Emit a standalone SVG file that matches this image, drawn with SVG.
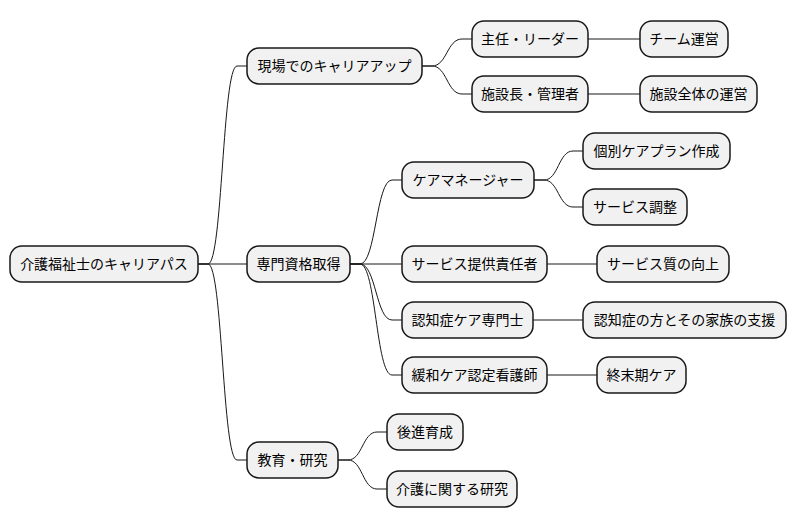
<svg xmlns="http://www.w3.org/2000/svg" width="796" height="527" viewBox="0 0 796 527">
<style>
.n rect{fill:#F1F1F1;stroke:#181818;stroke-width:1.5}
.n text{font-family:"Noto Sans CJK JP","Noto Sans",sans-serif;font-size:14px;fill:#000;text-anchor:middle}
.c path{fill:none;stroke:#181818;stroke-width:1}
</style>
<rect width="796" height="527" fill="#FFFFFF"/>
<g class="c">
<path d="M198,264 L208,264 C222.5,264 222.5,66 237,66 L247,66"/>
<path d="M198,264 L247,264"/>
<path d="M198,264 L208,264 C222.5,264 222.5,460 237,460 L247,460"/>
<path d="M422,66 L432,66 C447,66 447,39 462,39 L472,39"/>
<path d="M422,66 L432,66 C447,66 447,94 462,94 L472,94"/>
<path d="M588,39 L640,39"/>
<path d="M588,94 L640,94"/>
<path d="M350,264 L360,264 C376,264 376,180 392,180 L402,180"/>
<path d="M350,264 L402,264"/>
<path d="M350,264 L360,264 C376,264 376,320 392,320 L402,320"/>
<path d="M350,264 L360,264 C376,264 376,375 392,375 L402,375"/>
<path d="M534,180 L544,180 C558.5,180 558.5,151 573,151 L583,151"/>
<path d="M534,180 L544,180 C558.5,180 558.5,207 573,207 L583,207"/>
<path d="M547,264 L597,264"/>
<path d="M533,320 L583,320"/>
<path d="M547,375 L597,375"/>
<path d="M338,460 L348,460 C362.5,460 362.5,432 377,432 L387,432"/>
<path d="M338,460 L348,460 C362.5,460 362.5,489 377,489 L387,489"/>
</g>
<g id="root" class="n"><rect x="10" y="246" width="188" height="36" rx="12"/><text x="104" y="269">介護福祉士のキャリアパス</text></g>
<g id="genba" class="n"><rect x="247" y="48" width="175" height="36" rx="12"/><text x="334.5" y="71">現場でのキャリアアップ</text></g>
<g id="shunin" class="n"><rect x="472" y="21" width="116" height="36" rx="12"/><text x="530" y="44">主任・リーダー</text></g>
<g id="team" class="n"><rect x="640" y="21" width="88" height="36" rx="12"/><text x="684" y="44">チーム運営</text></g>
<g id="shisetsucho" class="n"><rect x="472" y="76" width="116" height="36" rx="12"/><text x="530" y="99">施設長・管理者</text></g>
<g id="shisetsuzentai" class="n"><rect x="640" y="76" width="117" height="36" rx="12"/><text x="698.5" y="99">施設全体の運営</text></g>
<g id="senmon" class="n"><rect x="247" y="246" width="103" height="36" rx="12"/><text x="298.5" y="269">専門資格取得</text></g>
<g id="caremanager" class="n"><rect x="402" y="162" width="132" height="36" rx="12"/><text x="468" y="185">ケアマネージャー</text></g>
<g id="kobetsu" class="n"><rect x="583" y="133" width="147" height="36" rx="12"/><text x="656.5" y="156">個別ケアプラン作成</text></g>
<g id="chosei" class="n"><rect x="583" y="189" width="104" height="36" rx="12"/><text x="635" y="212">サービス調整</text></g>
<g id="teikyo" class="n"><rect x="402" y="246" width="145" height="36" rx="12"/><text x="474.5" y="269">サービス提供責任者</text></g>
<g id="shitsu" class="n"><rect x="597" y="246" width="132" height="36" rx="12"/><text x="663" y="269">サービス質の向上</text></g>
<g id="ninchicare" class="n"><rect x="402" y="302" width="131" height="36" rx="12"/><text x="467.5" y="325">認知症ケア専門士</text></g>
<g id="ninchishien" class="n"><rect x="583" y="302" width="203" height="36" rx="12"/><text x="684.5" y="325">認知症の方とその家族の支援</text></g>
<g id="kanwa" class="n"><rect x="402" y="357" width="145" height="36" rx="12"/><text x="474.5" y="380">緩和ケア認定看護師</text></g>
<g id="shumatsu" class="n"><rect x="597" y="357" width="89" height="36" rx="12"/><text x="641.5" y="380">終末期ケア</text></g>
<g id="kyoiku" class="n"><rect x="247" y="442" width="91" height="36" rx="12"/><text x="292.5" y="465">教育・研究</text></g>
<g id="koshin" class="n"><rect x="387" y="414" width="76" height="36" rx="12"/><text x="425" y="437">後進育成</text></g>
<g id="kenkyu" class="n"><rect x="387" y="471" width="130" height="36" rx="12"/><text x="452" y="494">介護に関する研究</text></g>
</svg>
